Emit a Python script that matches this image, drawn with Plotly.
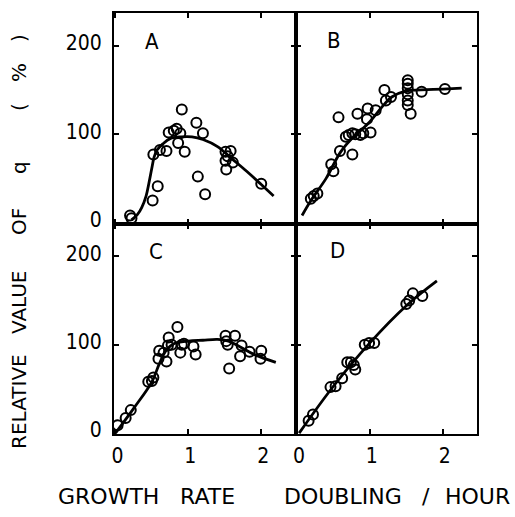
import plotly.graph_objects as go
from plotly.subplots import make_subplots

# ---- data ----
a_x = [0.20, 0.22, 0.51, 0.58, 0.52, 0.61, 0.70, 0.73, 0.80, 0.84, 0.89, 0.86, 0.95, 0.91,
       1.11, 1.20, 1.13, 1.23, 1.51, 1.58, 1.51, 1.52, 1.61, 1.54, 2.00]
a_y = [8, 5, 25, 41, 77, 82, 81, 102, 104, 106, 101, 90, 80, 128,
       113, 101, 52, 32, 80, 81, 70, 60, 68, 75, 44]
a_cx = [0.22, 0.30, 0.36, 0.42, 0.46, 0.50, 0.53, 0.57, 0.65, 0.75, 0.90, 1.05, 1.20, 1.40,
        1.60, 1.80, 2.00, 2.17]
a_cy = [3, 9, 17, 30, 45, 62, 74, 82, 89, 95, 97, 97, 94, 86, 72, 58, 43, 30]

b_x = [0.19, 0.23, 0.28, 0.47, 0.50, 0.59, 0.76, 0.57, 0.67, 0.71, 0.76, 0.80, 0.87, 0.91,
       1.01, 0.83, 0.96, 0.97, 1.08, 1.20, 1.22, 1.29, 1.52, 1.52, 1.52, 1.52, 1.52, 1.52,
       1.56, 1.71, 2.03]
b_y = [27, 30, 33, 66, 58, 81, 77, 119, 97, 99, 101, 100, 99, 101,
       102, 123, 117, 129, 127, 150, 138, 142, 161, 157, 152, 145, 138, 133,
       123, 148, 151]
b_cx = [0.07, 0.20, 0.40, 0.60, 0.80, 0.90, 1.00, 1.10, 1.20, 1.30, 1.50, 1.70, 2.00, 2.26]
b_cy = [8, 26, 50, 80, 99, 106, 114, 124, 134, 142, 149, 150, 151, 152]

c_x = [0.03, 0.14, 0.21, 0.45, 0.50, 0.52, 0.59, 0.60, 0.66, 0.70, 0.73, 0.72, 0.77, 0.85,
       0.89, 0.91, 0.94, 1.07, 1.10, 1.51, 1.64, 1.54, 1.52, 1.56, 1.73, 1.71, 1.84, 2.00, 1.99]
c_y = [9, 17, 26, 58, 59, 63, 84, 93, 91, 81, 108, 99, 100, 120,
       91, 100, 101, 98, 89, 110, 110, 100, 104, 73, 99, 87, 92, 93, 84]
c_cx = [0.0, 0.25, 0.50, 0.60, 0.70, 0.80, 1.00, 1.20, 1.40, 1.55, 1.70, 1.90, 2.20]
c_cy = [0, 28, 58, 78, 94, 101, 104, 105, 106, 104, 98, 89, 80]

d_x = [0.16, 0.22, 0.46, 0.53, 0.62, 0.69, 0.74, 0.78, 0.80, 0.93, 0.99, 1.06, 1.50, 1.59, 1.54, 1.72]
d_y = [14, 21, 52, 53, 62, 80, 80, 77, 72, 100, 102, 102, 146, 158, 150, 155]
d_cx = [0.03, 0.50, 1.00, 1.50, 1.92]
d_cy = [0, 53, 102, 144, 172]

panel_labels = ["A", "B", "C", "D"]
x_ticks = [0, 1, 2]
y_ticks = [0, 100, 200]

FONT_C = "DejaVu Sans Condensed, DejaVu Sans, sans-serif"
FONT = "DejaVu Sans, sans-serif"

# ---- layout geometry (pixels) ----
W, H = 515, 517
L, R, T, B = 114, 477, 13, 434


def px(x):
    return (x - L) / (R - L)


def py(y):
    return (B - y) / (B - T)


fig = make_subplots(rows=2, cols=2, horizontal_spacing=0, vertical_spacing=0)

panels = [
    (1, 1, a_x, a_y, a_cx, a_cy),
    (1, 2, b_x, b_y, b_cx, b_cy),
    (2, 1, c_x, c_y, c_cx, c_cy),
    (2, 2, d_x, d_y, d_cx, d_cy),
]
for r, c, xs, ys, cxs, cys in panels:
    fig.add_trace(go.Scatter(x=cxs, y=cys, mode="lines", line=dict(color="black", width=2.8, shape="spline"),
                             showlegend=False, hoverinfo="skip"), row=r, col=c)
    fig.add_trace(go.Scatter(x=xs, y=ys, mode="markers",
                             marker=dict(symbol="circle-open", size=10, color="black", line=dict(width=2)),
                             showlegend=False), row=r, col=c)

for r in (1, 2):
    for c in (1, 2):
        fig.update_xaxes(row=r, col=c, range=[-0.02, 2.47], tickvals=x_ticks,
                         showticklabels=(r == 2), ticks="inside", ticklen=5, tickwidth=2,
                         tickcolor="black", showline=True, linecolor="black", linewidth=2,
                         mirror="ticks", showgrid=False, zeroline=False, ticklabelstandoff=2,
                         ticklabelshift=2,
                         tickfont=dict(family=FONT_C, size=21, color="black"))
        fig.update_yaxes(row=r, col=c, range=[-1, 237], tickvals=y_ticks,
                         showticklabels=(c == 1), ticks="inside", ticklen=5, tickwidth=2,
                         tickcolor="black", showline=True, linecolor="black", linewidth=2,
                         mirror="ticks", showgrid=False, zeroline=False, ticklabelstandoff=6,
                         ticklabelshift=-3,
                         tickfont=dict(family=FONT_C, size=21, color="black"))

annotations = []
letter_pos = [(152, 41), (334, 40), (156, 251), (337, 250)]
for lab, (lx, ly) in zip(panel_labels, letter_pos):
    annotations.append(dict(text=lab, x=px(lx), y=py(ly), xref="paper", yref="paper",
                            showarrow=False, xanchor="center", yanchor="middle",
                            font=dict(family=FONT_C, size=22, color="black")))

# y-axis title, word by word (rotated)
y_words = [("RELATIVE", 402), ("VALUE", 302), ("OF", 222), ("q", 168), ("(", 107), ("%", 73), (")", 38)]
for w, yy in y_words:
    annotations.append(dict(text=w, x=px(19), y=py(yy), xref="paper", yref="paper",
                            showarrow=False, textangle=-90, xanchor="center", yanchor="middle",
                            font=dict(family=FONT, size=20, color="black")))

# x-axis title, word by word
x_words = [("GROWTH", 108, "center"), ("RATE", 207, "center"), ("DOUBLING", 343, "center"),
           ("/", 426, "center"), ("HOUR", 512, "right")]
for w, xx, anc in x_words:
    annotations.append(dict(text=w, x=px(xx), y=py(496), xref="paper", yref="paper",
                            showarrow=False, xanchor=anc, yanchor="middle",
                            font=dict(family=FONT, size=22, color="black")))

fig.update_layout(width=W, height=H, margin=dict(l=L, r=W - R, t=T, b=H - B, pad=0),
                  plot_bgcolor="white", paper_bgcolor="white", annotations=annotations,
                  font=dict(family=FONT, color="black"))

fig.write_html("out.html", config={"displayModeBar": False},
               post_script="document.body.style.margin='0';document.body.style.overflow='hidden';")
